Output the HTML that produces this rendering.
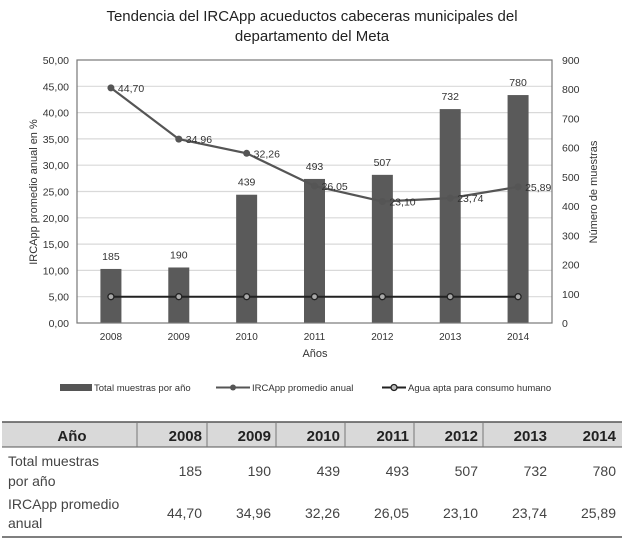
<!DOCTYPE html>
<html><head><meta charset="utf-8"><style>
body{margin:0;background:#fff;font-family:"Liberation Sans",sans-serif;}
svg text{font-family:"Liberation Sans",sans-serif;}
</style></head><body>
<svg id="c" width="624" height="542" xmlns="http://www.w3.org/2000/svg">
<text x="312" y="21" text-anchor="middle" font-size="15" fill="#222">Tendencia del IRCApp acueductos cabeceras municipales del</text>
<text x="312" y="41" text-anchor="middle" font-size="15" fill="#222">departamento del Meta</text>
<g id="grid"></g><g id="bars"></g><g id="lines"></g><g id="axes"></g>
<text transform="translate(37,192) rotate(-90)" text-anchor="middle" font-size="11" fill="#333">IRCApp promedio anual en %</text>
<text transform="translate(597,192) rotate(-90)" text-anchor="middle" font-size="11" fill="#333">Número de muestras</text>
<text x="315" y="357" text-anchor="middle" font-size="11" fill="#333">Años</text>
<g font-size="9.5" fill="#333">
<rect x="60" y="384" width="32" height="7" fill="#555"/>
<text x="94" y="391">Total muestras por año</text>
<line x1="216" y1="387.5" x2="250" y2="387.5" stroke="#555" stroke-width="2"/><circle cx="233" cy="387.5" r="3" fill="#555"/>
<text x="252" y="391">IRCApp promedio anual</text>
<line x1="382" y1="387.5" x2="406" y2="387.5" stroke="#222" stroke-width="2"/><circle cx="394" cy="387.5" r="3" fill="#bbb" stroke="#222" stroke-width="1.3"/>
<text x="408" y="391">Agua apta para consumo humano</text>
</g>
<g id="table"></g>
</svg>
<script>
const years=["2008","2009","2010","2011","2012","2013","2014"];
const muestras=[185,190,439,493,507,732,780];
const ircapp=[44.70,34.96,32.26,26.05,23.10,23.74,25.89];
const apta=[5,5,5,5,5,5,5];
const leftTicks=[0,5,10,15,20,25,30,35,40,45,50];
const rightTicks=[0,100,200,300,400,500,600,700,800,900];
const NS="http://www.w3.org/2000/svg";
const L=77,R=552,T=60,B=323;
const yl=v=>B-(v/50)*(B-T), yr=v=>B-(v/900)*(B-T);
const xc=i=>L+(R-L)/years.length*(i+0.5);
const fmt=v=>v.toFixed(2).replace('.',',');
function mk(p,tag,a,txt){const e=document.createElementNS(NS,tag);for(const k in a)e.setAttribute(k,a[k]);if(txt!==undefined)e.textContent=txt;document.getElementById(p).appendChild(e);return e;}
leftTicks.forEach(v=>{
 if(v>0&&v<50){const g=mk('grid','line',{x1:L,x2:R,y1:yl(v),y2:yl(v),stroke:'#d9d9d9','stroke-width':1.2});
 
 }
 const t=mk('axes','text',{x:L-8,y:yl(v)+4,'text-anchor':'end','font-size':10.5,fill:'#333'},fmt(v));
 
 
});
rightTicks.forEach(v=>{const t=mk('axes','text',{x:562,y:yr(v)+4,'font-size':10.5,fill:'#333'},String(v));
 
 });
const fr=mk('axes','rect',{x:L,y:T,width:R-L,height:B-T,fill:'none',stroke:'#777','stroke-width':1.2});


years.forEach((y,i)=>{
 const t=mk('axes','text',{x:xc(i),y:340,'text-anchor':'middle','font-size':10,fill:'#333'},y);
 
 
 const b=mk('bars','rect',{x:xc(i)-10.5,y:yr(muestras[i]),width:21,height:B-yr(muestras[i]),fill:'#5a5a5a'});
 
 
 const l=mk('bars','text',{x:xc(i),y:yr(muestras[i])-9,'text-anchor':'middle','font-size':10.5,fill:'#333'},String(muestras[i]));
 
 
});
const p1=mk('lines','polyline',{points:ircapp.map((v,i)=>xc(i)+','+yl(v)).join(' '),fill:'none',stroke:'#555','stroke-width':2.2});


const p2=mk('lines','polyline',{points:apta.map((v,i)=>xc(i)+','+yl(v)).join(' '),fill:'none',stroke:'#222','stroke-width':2});


ircapp.forEach((v,i)=>{
 const c=mk('lines','circle',{cx:xc(i),cy:yl(v),r:3.5,fill:'#555'});
 
 
 const t=mk('lines','text',{x:xc(i)+7,y:yl(v)+4,'font-size':10.5,fill:'#333'},fmt(v));
 
 
 const c2=mk('lines','circle',{cx:xc(i),cy:yl(apta[i]),r:3,fill:'#aaa',stroke:'#222','stroke-width':1.3});
 
 
});
// table
const seps=[137,207,276,345,414,483,552];
const hr=mk('table','rect',{x:2,y:422,width:620,height:25,fill:'#d9d9d9'});


mk('table','line',{x1:2,x2:622,y1:422,y2:422,stroke:'#555','stroke-width':1.5});
mk('table','line',{x1:2,x2:622,y1:447,y2:447,stroke:'#555','stroke-width':1});
mk('table','line',{x1:2,x2:622,y1:537,y2:537,stroke:'#555','stroke-width':1.5});
seps.slice(0,6).forEach(x=>mk('table','line',{x1:x,x2:x,y1:422,y2:447,stroke:'#777','stroke-width':1}));
const h=mk('table','text',{x:72,y:441,'text-anchor':'middle','font-size':15,'font-weight':'bold',fill:'#222'},'Año');


years.forEach((y,i)=>{
 const right=(i<6?seps[i+1]:621)-5;
 const t=mk('table','text',{x:right,y:441,'text-anchor':'end','font-size':15,'font-weight':'bold',fill:'#222'},y);
 
 
 const a=mk('table','text',{x:right,y:476,'text-anchor':'end','font-size':14,fill:'#444'},String(muestras[i]));
 
 
 const b=mk('table','text',{x:right,y:518,'text-anchor':'end','font-size':14,fill:'#444'},fmt(ircapp[i]));
 
 
});
[['Total muestras',466],[' por año',486],['IRCApp promedio',509],['anual',528]].forEach(([s,y])=>{
 const t=mk('table','text',{x:8,y:y,'font-size':14,fill:'#444','xml:space':'preserve'},s);
 
 
});
</script>
</body></html>
